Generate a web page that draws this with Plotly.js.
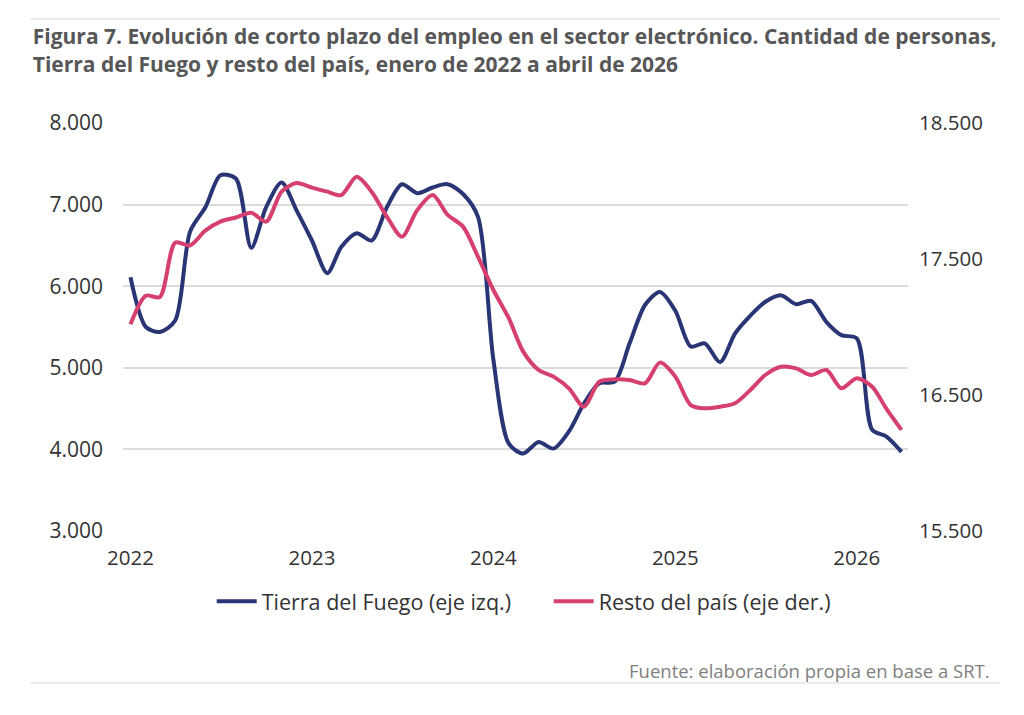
<!DOCTYPE html>
<html>
<head>
<meta charset="utf-8">
<script src="https://cdn.plot.ly/plotly-3.0.1.min.js"></script>
<style>
  html, body { margin: 0; padding: 0; background: #fff; }
  #chart { width: 1024px; height: 715px; }
</style>
</head>
<body>
<div id="chart"></div>
<script>
// meses, enero 2022 a abril 2026
var meses = [
  '2022-01-01','2022-02-01','2022-03-01','2022-04-01','2022-05-01','2022-06-01',
  '2022-07-01','2022-08-01','2022-09-01','2022-10-01','2022-11-01','2022-12-01',
  '2023-01-01','2023-02-01','2023-03-01','2023-04-01','2023-05-01','2023-06-01',
  '2023-07-01','2023-08-01','2023-09-01','2023-10-01','2023-11-01','2023-12-01',
  '2024-01-01','2024-02-01','2024-03-01','2024-04-01','2024-05-01','2024-06-01',
  '2024-07-01','2024-08-01','2024-09-01','2024-10-01','2024-11-01','2024-12-01',
  '2025-01-01','2025-02-01','2025-03-01','2025-04-01','2025-05-01','2025-06-01',
  '2025-07-01','2025-08-01','2025-09-01','2025-10-01','2025-11-01','2025-12-01',
  '2026-01-01','2026-02-01','2026-03-01','2026-04-01'
];

// Tierra del Fuego (eje izq.)
var tierraDelFuego = [
  6110, 5500, 5440, 5580, 6670, 6970, 7360, 7320, 6470, 6970, 7270, 6930,
  6560, 6160, 6480, 6650, 6560, 6970, 7250, 7140, 7210, 7250, 7130, 6850,
  5100, 4070, 3950, 4090, 4010, 4220, 4560, 4810, 4830, 5300, 5770, 5930,
  5700, 5260, 5300, 5070, 5420, 5640, 5810, 5890, 5780, 5820, 5560, 5400,
  5360, 4240, 4160, 3970
];

// Resto del país (eje der.)
var restoPais = [
  17020, 17230, 17220, 17620, 17600, 17710, 17775, 17805, 17840, 17775, 17995, 18058,
  18025, 17995, 17970, 18105, 17995, 17810, 17664, 17860, 17970, 17824, 17738, 17517,
  17272, 17065, 16819, 16684, 16635, 16549, 16414, 16598, 16615, 16610, 16586, 16738,
  16635, 16426, 16402, 16414, 16439, 16537, 16647, 16708, 16696, 16647, 16684, 16549,
  16623, 16561, 16402, 16243
];

var anios = ['2022-01-01','2023-01-01','2024-01-01','2025-01-01','2026-01-01'];
var aniosTexto = ['2022','2023','2024','2025','2026'];
var ticksIzq = [3000, 4000, 5000, 6000, 7000, 8000];
var ticksDer = [15500, 16500, 17500, 18500];

var fuente = 'Open Sans, sans-serif';

var traces = [
  {
    x: meses, y: tierraDelFuego,
    name: 'Tierra del Fuego (eje izq.)',
    type: 'scatter', mode: 'lines',
    line: {color: '#2a3575', width: 4, shape: 'spline', smoothing: 0.8},
    yaxis: 'y'
  },
  {
    x: meses, y: restoPais,
    name: 'Resto del país (eje der.)',
    type: 'scatter', mode: 'lines',
    line: {color: '#d6406f', width: 4, shape: 'spline', smoothing: 0.8},
    yaxis: 'y2'
  }
];

var layout = {
  width: 1024,
  height: 715,
  paper_bgcolor: '#fff',
  plot_bgcolor: '#fff',
  separators: ',.',
  font: {family: fuente, size: 20, color: '#333'},
  margin: {l: 123, r: 116, t: 123, b: 184},
  title: {
    text: 'Figura 7. Evolución de corto plazo del empleo en el sector electrónico. Cantidad de personas,<br>Tierra del Fuego y resto del país, enero de 2022 a abril de 2026',
    font: {family: fuente, size: 21, color: '#575757', weight: 'bold'},
    x: 0.032, xanchor: 'left',
    y: 0.938, yanchor: 'top'
  },
  xaxis: {
    type: 'date',
    range: ['2021-12-17', '2026-04-14'],
    tickvals: anios,
    ticktext: aniosTexto,
    showgrid: false, zeroline: false, showline: false,
    ticks: '',
    ticklabelstandoff: 12,
    tickfont: {size: 20.5, color: '#333'}
  },
  yaxis: {
    range: [3000, 8000],
    tickvals: ticksIzq,
    tickformat: ',d',
    gridcolor: '#dcdcdc', gridwidth: 1.5,
    zeroline: false, showline: false, ticks: '',
    ticklabelstandoff: 19,
    tickfont: {size: 21, color: '#333'}
  },
  yaxis2: {
    overlaying: 'y', side: 'right',
    range: [15500, 18500],
    tickvals: ticksDer,
    tickformat: ',d',
    showgrid: false, zeroline: false, showline: false, ticks: '',
    ticklabelstandoff: 10,
    tickfont: {size: 20.5, color: '#333'}
  },
  showlegend: true,
  legend: {
    orientation: 'h',
    x: 0.113, xanchor: 'left',
    y: -0.172, yanchor: 'middle',
    font: {size: 21.5, color: '#333'},
    itemwidth: 40,
    entrywidth: 282
  },
  shapes: [
    {type: 'line', xref: 'paper', yref: 'paper', x0: -0.118, x1: 1.117, y0: 1.255, y1: 1.255,
     line: {color: '#e6e6e6', width: 1.5}},
    {type: 'line', xref: 'paper', yref: 'paper', x0: -0.118, x1: 1.117, y0: -0.3725, y1: -0.3725,
     line: {color: '#e6e6e6', width: 1.5}}
  ],
  annotations: [
    {text: 'Fuente: elaboración propia en base a SRT.', xref: 'paper', yref: 'paper',
     x: 1.107, y: -0.341, xanchor: 'right', yanchor: 'middle', showarrow: false,
     font: {family: fuente, size: 18.5, color: '#808080'}}
  ]
};

Plotly.newPlot('chart', traces, layout, {displayModeBar: false, responsive: false});
</script>
</body>
</html>
